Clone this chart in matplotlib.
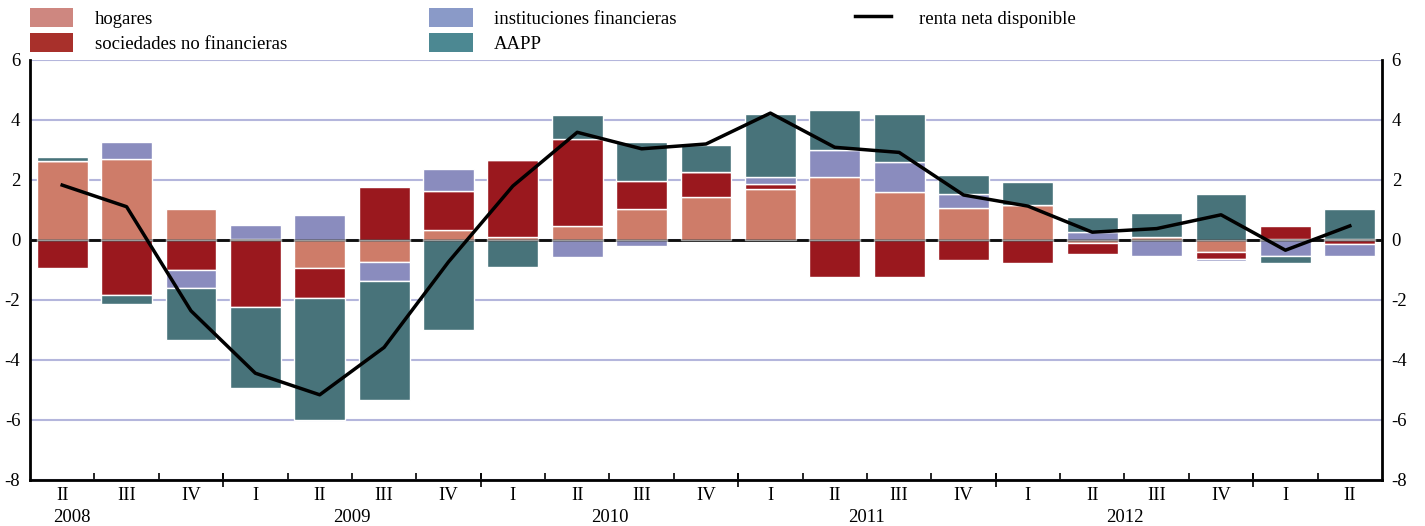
import numpy as np
import matplotlib
matplotlib.use('Agg')
import matplotlib.pyplot as plt
from matplotlib.patches import Patch
from matplotlib.lines import Line2D

# trimestres 2008 II - 2013 II
quarters = ['II', 'III', 'IV', 'I', 'II', 'III', 'IV', 'I', 'II', 'III', 'IV',
            'I', 'II', 'III', 'IV', 'I', 'II', 'III', 'IV', 'I', 'II']
years = ['2008', '2009', '2010', '2011', '2012']
year_pos = [0.15, 4.5, 8.5, 12.5, 16.5]
year_bounds = [2.5, 6.5, 10.5, 14.5, 18.5]

hogares = [2.62, 2.69, 1.02, 0.05, -0.94, -0.72, 0.32, 0.11, 0.48, 1.04, 1.44,
           1.69, 2.10, 1.61, 1.08, 1.16, -0.11, 0.11, -0.41, 0.03, 0.03]
sociedades = [-0.93, -1.84, -1.01, -2.22, -0.98, 1.77, 1.32, 2.56, 2.88, 0.94, 0.82,
              0.17, -1.24, -1.24, -0.66, -0.76, -0.36, 0.0, -0.21, 0.43, -0.13]
instituciones = [0.0, 0.57, -0.60, 0.45, 0.84, -0.64, 0.72, 0.0, -0.58, -0.19, 0.0,
                 0.25, 0.89, 0.98, 0.46, 0.0, 0.28, -0.52, -0.07, -0.53, -0.39]
aapp = [0.13, -0.29, -1.71, -2.72, -4.08, -3.97, -3.00, -0.89, 0.81, 1.28, 0.91,
        2.10, 1.34, 1.60, 0.64, 0.78, 0.48, 0.79, 1.54, -0.25, 1.00]
renta = [1.83, 1.11, -2.36, -4.44, -5.16, -3.58, -0.73, 1.80, 3.59, 3.04, 3.20,
         4.23, 3.09, 2.92, 1.50, 1.13, 0.26, 0.38, 0.84, -0.34, 0.47]

series = [hogares, sociedades, instituciones, aapp]
bar_colors = ['#ce7c69', '#9a181e', '#8a8cbe', '#48737a']
leg_colors = ['#ce8780', '#a8302b', '#8a9ac8', '#4c8892']
names = ['hogares', 'sociedades no financieras', 'instituciones financieras', 'AAPP']

fs = 13.5
plt.rcParams['font.family'] = ['Liberation Serif', 'DejaVu Serif']
plt.rcParams['font.size'] = fs

fig = plt.figure(figsize=(14.25, 5.26), dpi=100)
ax = fig.add_axes([30/1425, 1-480/526, (1382-30)/1425, 420/526])

x = np.arange(len(quarters))
pos_base = np.zeros(len(x))
neg_base = np.zeros(len(x))
for vals, col in zip(series, bar_colors):
    v = np.array(vals)
    base = np.where(v >= 0, pos_base, neg_base)
    ax.bar(x, v, 0.79, bottom=base, color=col, edgecolor='white', linewidth=1, zorder=2)
    pos_base += np.where(v >= 0, v, 0)
    neg_base += np.where(v < 0, v, 0)

# linea de cero
ax.axhline(0, color='black', lw=2, zorder=1)
ax.axhline(0, color='#222222', lw=2, alpha=0.45, zorder=3)

ax.plot(x, renta, color='black', lw=2.5, zorder=4)

ax.set_xlim(-0.5, 20.5)
ax.set_ylim(-8, 6)
y_tic = range(-8, 7, 2)
ax.set_yticks(y_tic)
ax.set_yticklabels(y_tic)
ax.yaxis.grid(True, color='#b4b6dc', lw=1.5)
ax.set_axisbelow(True)
ax.tick_params(axis='y', length=0, pad=7, labelsize=fs, left=True, right=True,
               labelleft=True, labelright=True)

ax.set_xticks(x)
ax.set_xticklabels(quarters)
ax.tick_params(axis='x', which='major', length=0, pad=5, labelsize=fs)
ax.set_xticks(np.arange(0.5, 20, 1), minor=True)
ax.tick_params(axis='x', which='minor', direction='in', length=5, width=1.2)

sec = ax.secondary_xaxis('bottom')
sec.set_xticks(year_bounds)
sec.set_xticklabels([])
sec.tick_params(direction='inout', length=10, width=1.2)
sec.spines['bottom'].set_visible(False)

for yr, p in zip(years, year_pos):
    ax.text(p, -0.09, yr, transform=ax.get_xaxis_transform(), ha='center', va='center',
            fontsize=fs)

ax.spines['top'].set_visible(False)
for s in ['left', 'right', 'bottom']:
    ax.spines[s].set_linewidth(2)

# leyenda: bloques de sectores y linea de renta por separado
handles = [Patch(facecolor=c, edgecolor='none') for c in leg_colors]
fig.legend(handles, names, loc='upper left', bbox_to_anchor=(30/1425, 1-8/526), ncol=2,
           frameon=False, borderpad=0, borderaxespad=0, handlelength=2.3, handleheight=1.15,
           handletextpad=1.15, columnspacing=7.6, labelspacing=0.3, fontsize=fs)
fig.legend([Line2D([0], [0], color='black', lw=2.5)], ['renta neta disponible'],
           loc='upper left', bbox_to_anchor=(855/1425, 1-8/526),
           frameon=False, borderpad=0, borderaxespad=0, handlelength=1.9, handleheight=1.15,
           handletextpad=1.5, fontsize=fs)

plt.savefig('out.png')
